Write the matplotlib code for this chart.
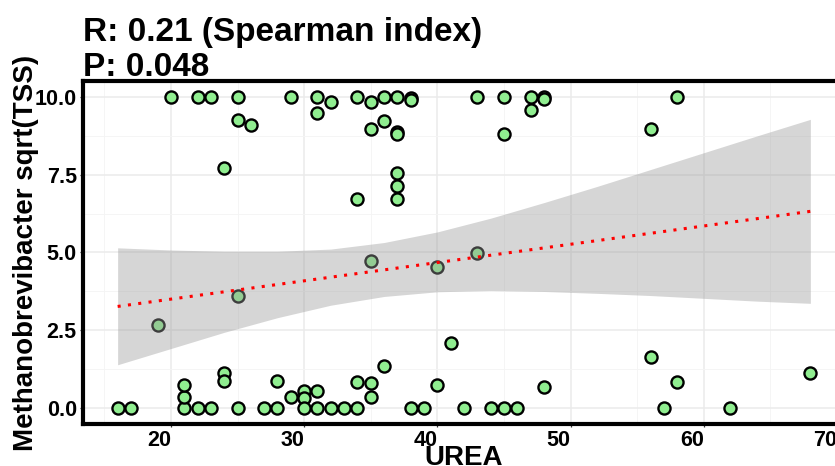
import numpy as np
import matplotlib
matplotlib.use('Agg')
import matplotlib.pyplot as plt
from matplotlib.ticker import MultipleLocator

plt.rcParams['font.family'] = ['Liberation Sans', 'DejaVu Sans']
plt.rcParams['font.weight'] = 'bold'

# UREA vs sqrt(TSS) abundance
urea = [16, 17, 19, 20, 21, 21, 21, 22, 22, 23, 23, 24, 24, 24,
        25, 25, 25, 25, 26, 27, 28, 28, 29, 29, 30, 30, 30,
        31, 31, 31, 31, 32, 32, 33, 34, 34, 34, 34,
        35, 35, 35, 35, 35, 36, 36, 36, 37, 37, 37, 37, 37, 37,
        38, 38, 38, 39, 40, 40, 41, 42, 43, 43, 44, 45, 45, 45,
        46, 47, 47, 48, 48, 48, 56, 56, 57, 58, 58, 62, 68]
tss = [0, 0, 2.69, 10, 0, 0.37, 0.76, 10, 0, 10, 0, 7.71, 1.14, 0.87,
       10, 9.25, 3.61, 0, 9.08, 0, 0.88, 0, 10, 0.35, 0.55, 0.32, 0,
       10, 9.47, 0.57, 0, 9.83, 0, 0, 10, 6.72, 0.86, 0,
       9.83, 8.96, 4.72, 0.82, 0.36, 10, 9.21, 1.37, 10, 8.87, 8.79, 7.54, 7.14, 6.72,
       9.97, 9.9, 0, 0, 4.53, 0.75, 2.11, 0, 10, 4.97, 0, 10, 8.8, 0,
       0, 10, 9.58, 10, 9.93, 0.7, 8.97, 1.64, 0, 10, 0.84, 0, 1.15]

# smoother (lm) line and its confidence band
fit_x = [16, 68]
fit_y = [3.27, 6.32]
band_x = [16, 20, 24, 28, 32, 36, 40, 44, 48, 52, 56, 60, 64, 68]
band_lo = [1.40, 1.92, 2.44, 2.91, 3.31, 3.59, 3.74, 3.78, 3.75, 3.69, 3.62, 3.53, 3.44, 3.37]
band_hi = [5.15, 5.08, 5.04, 5.04, 5.11, 5.32, 5.66, 6.10, 6.60, 7.12, 7.66, 8.20, 8.74, 9.27]

title_lines = ['R: 0.21 (Spearman index)', 'P: 0.048']
xticks = [20, 30, 40, 50, 60, 70]
yticks = [0, 2.5, 5, 7.5, 10]

fig = plt.figure(figsize=(8.35, 4.66), dpi=100)
ax = fig.add_axes([83 / 835, 42 / 466, 762 / 835, 343 / 466])

ax.scatter(urea, tss, s=76, facecolor='#90EE90', edgecolor='black', linewidths=1.7, zorder=2)
ax.fill_between(band_x, band_lo, band_hi, color='#999999', alpha=0.4, linewidth=0, zorder=3)
ax.plot(fit_x, fit_y, color='red', linewidth=2.2, linestyle=(0, (1, 2.4)), zorder=4)

ax.set_xlim(13.4, 70.6)
ax.set_ylim(-0.5, 10.5)
ax.set_xticks(xticks)
ax.set_yticks(yticks)
ax.set_xticklabels([str(v) for v in xticks], ha='right')
ax.set_yticklabels(['%.1f' % v for v in yticks])
ax.xaxis.set_minor_locator(MultipleLocator(5))
ax.yaxis.set_minor_locator(MultipleLocator(1.25))
ax.grid(which='major', color='#EBEBEB', linewidth=1.1, zorder=0)
ax.grid(which='minor', color='#F4F4F4', linewidth=0.6, zorder=0)
ax.set_axisbelow(True)
ax.tick_params(axis='both', which='major', labelsize=15.5, length=2.5, width=0.9,
               color='#333333', labelcolor='black', pad=2)
ax.tick_params(axis='both', which='minor', length=0)

for side in ['left', 'bottom', 'top']:
    ax.spines[side].set_linewidth(3)
    ax.spines[side].set_color('black')
ax.spines['right'].set_visible(False)

ax.set_xlabel('UREA', fontsize=20, fontweight='bold')
ax.set_ylabel('Methanobrevibacter sqrt(TSS)', fontsize=20, fontweight='bold')
ax.xaxis.set_label_coords(0.5, -0.06)
ax.yaxis.set_label_coords(-0.058, 0.5)

fig.text(83 / 835, 1 - 41 / 466, title_lines[0], fontsize=24, fontweight='bold', va='baseline')
fig.text(83 / 835, 1 - 76 / 466, title_lines[1], fontsize=24, fontweight='bold', va='baseline')

fig.savefig('out.png', dpi=100)
